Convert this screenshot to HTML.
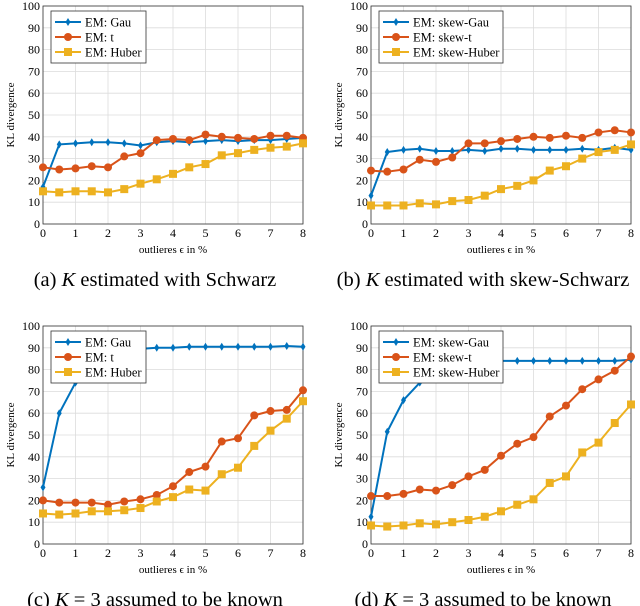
<!DOCTYPE html>
<html><head><meta charset="utf-8"><style>
body{margin:0;background:#fff}
svg{display:block;font-family:"Liberation Serif",serif}
</style></head><body>
<svg id="fig" width="640" height="606" viewBox="0 0 640 606"></svg>
<script>
const xVals=[0,0.5,1,1.5,2,2.5,3,3.5,4,4.5,5,5.5,6,6.5,7,7.5,8];
const xTicks=[0,1,2,3,4,5,6,7,8];
const yTicks=[0,10,20,30,40,50,60,70,80,90,100];
const aGau=[17,36.5,37,37.5,37.5,37,36,37.5,38,37.5,38,38.5,38,38.5,38.5,39,39.5];
const aT=[26,25,25.5,26.5,26,31,32.5,38.5,39,38.5,41,40,39.5,39,40.5,40.5,39.5];
const aHub=[15,14.5,15,15,14.5,16,18.5,20.5,23,26,27.5,31.5,32.5,34,35,35.5,37];
const bGau=[13,33,34,34.5,33.5,33.5,34,33.5,34.5,34.5,34,34,34,34.5,34,35,34];
const bT=[24.5,24,25,29.5,28.5,30.5,37,37,38,39,40,39.5,40.5,39.5,42,43,42];
const bHub=[8.5,8.5,8.5,9.5,9,10.5,11,13,16,17.5,20,24.5,26.5,30,33,34,36.5];
const cGau=[26,60,74,83,87,89,89.5,90,90,90.5,90.5,90.5,90.5,90.5,90.5,90.8,90.5];
const cT=[20,19,19,19,18,19.5,20.5,22.5,26.5,33,35.5,47,48.5,59,61,61.5,70.5];
const cHub=[14,13.5,14,15,15,15.5,16.5,19.5,21.5,25,24.5,32,35,45,52,57.5,65.5];
const dGau=[12.5,51.5,66,74,80,82,83,83.5,84,84,84,84,84,84,84,84,84.5];
const dT=[22,22,23,25,24.5,27,31,34,40.5,46,49,58.5,63.5,71,75.5,79.5,86];
const dHub=[8.5,8,8.5,9.5,9,10,11,12.5,15,18,20.5,28,31,42,46.5,55.5,64];

const NS="http://www.w3.org/2000/svg";
const svg=document.getElementById('fig');
function mk(tag,attrs,parent){const e=document.createElementNS(NS,tag);for(const k in attrs)e.setAttribute(k,attrs[k]);(parent||svg).appendChild(e);return e;}
const COL=['#0072BD','#D95319','#EDB120'];

function panel(id,x0,y0,series,names,caption,lw){
  const x1=x0+260,yb=y0+218;
  const g=mk('g',{});
  
  
  const sx=v=>x0+v/8*260, sy=v=>yb-v/100*218;
  mk('rect',{x:x0,y:y0,width:260,height:218,fill:'#fff'},g);
  xTicks.forEach(t=>{const l=mk('line',{x1:sx(t),x2:sx(t),y1:y0,y2:yb,stroke:'#dcdcdc','stroke-width':0.8},g);
    
    const tx=mk('text',{x:sx(t),y:yb+13,'font-size':12,'text-anchor':'middle'},g);tx.textContent=t;
    });
  yTicks.forEach(t=>{const l=mk('line',{x1:x0,x2:x1,y1:sy(t),y2:sy(t),stroke:'#dcdcdc','stroke-width':0.8},g);
    
    const tx=mk('text',{x:x0-3,y:sy(t)+4,'font-size':12,'text-anchor':'end'},g);tx.textContent=t;
    });
  const fr=mk('rect',{x:x0,y:y0,width:260,height:218,fill:'none',stroke:'#333','stroke-width':0.8},g);
  
  const xl=mk('text',{x:x0+130,y:yb+29,'font-size':11,'text-anchor':'middle'},g);xl.textContent='outlieres ϵ in %';
  
  const yl=mk('text',{x:0,y:0,'font-size':11,'text-anchor':'middle',transform:`translate(${x0-29},${y0+109}) rotate(-90)`},g);yl.textContent='KL divergence';
  
  const cl=mk('clipPath',{id:'c'+id},g);mk('rect',{x:x0-6,y:y0-6,width:272,height:230},cl);
  const sg=mk('g',{'clip-path':`url(#c${id})`},g);
  function marker(k,cx,cy,p){
    let m;
    if(k==0)m=mk('path',{d:`M${cx} ${cy-4}L${cx+2.5} ${cy}L${cx} ${cy+4}L${cx-2.5} ${cy}Z`,fill:COL[0]},p);
    else if(k==1)m=mk('circle',{cx:cx,cy:cy,r:4,fill:COL[1]},p);
    else m=mk('rect',{x:cx-4,y:cy-4,width:8,height:8,fill:COL[2]},p);
    return m;
  }
  series.forEach((s,k)=>{
    const pts=s.map((v,i)=>sx(xVals[i])+','+sy(v)).join(' ');
    const pl=mk('polyline',{points:pts,fill:'none',stroke:COL[k],'stroke-width':2},sg);
    
    
    s.forEach((v,i)=>{const m=marker(k,sx(xVals[i]),sy(v),sg);
      });
  });
  const lg=mk('g',{},g);
  mk('rect',{x:x0+8,y:y0+5,width:lw,height:52,fill:'#fff',stroke:'#333','stroke-width':0.8},lg);
  names.forEach((n,k)=>{const ly=y0+16+k*15;
    const e=mk('g',{},lg);
    mk('line',{x1:x0+12,x2:x0+38,y1:ly,y2:ly,stroke:COL[k],'stroke-width':2},e);
    marker(k,x0+25,ly,e);
    const t=mk('text',{x:x0+42,y:ly+4.5,'font-size':12.5},e);t.textContent=n;});
  const c=mk('text',{x:x0+112,y:yb+62,'font-size':20.5,'text-anchor':'middle'},g);
  c.innerHTML=caption;
  
}
panel('a',43,6,[aGau,aT,aHub],['EM: Gau','EM: t','EM: Huber'],'(a) <tspan font-style="italic">K</tspan> estimated with Schwarz',95);
panel('b',371,6,[bGau,bT,bHub],['EM: skew-Gau','EM: skew-t','EM: skew-Huber'],'(b) <tspan font-style="italic">K</tspan> estimated with skew-Schwarz',124);
panel('c',43,326,[cGau,cT,cHub],['EM: Gau','EM: t','EM: Huber'],'(c) <tspan font-style="italic">K</tspan> = 3 assumed to be known',95);
panel('d',371,326,[dGau,dT,dHub],['EM: skew-Gau','EM: skew-t','EM: skew-Huber'],'(d) <tspan font-style="italic">K</tspan> = 3 assumed to be known',124);
</script>
</body></html>
